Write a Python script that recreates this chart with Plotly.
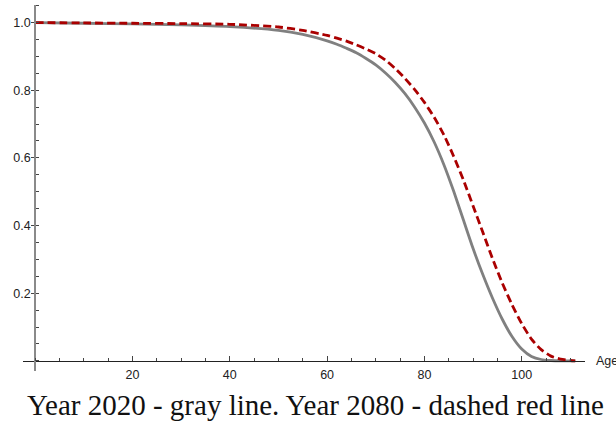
import plotly.graph_objects as go

# Data
ages = [0, 10, 20, 30, 40, 50, 55, 60, 62, 64, 66, 68, 70, 72, 74, 76, 78, 80, 82, 84, 86, 88, 90,
        92, 94, 96, 98, 100, 102, 104, 106, 108, 110, 111]
surv_2020 = [1.000, 0.998, 0.996, 0.993, 0.988, 0.977, 0.965, 0.946, 0.936, 0.924, 0.911, 0.894, 0.875,
             0.851, 0.823, 0.790, 0.750, 0.703, 0.647, 0.580, 0.502, 0.417, 0.332,
             0.255, 0.185, 0.123, 0.072, 0.035, 0.013, 0.004, 0.001, 0.000, 0.000, 0.000]
surv_2080 = [1.000, 0.999, 0.998, 0.997, 0.995, 0.987, 0.977, 0.962, 0.954, 0.945, 0.934, 0.922, 0.908,
             0.889, 0.864, 0.835, 0.802, 0.764, 0.720, 0.668, 0.605, 0.535, 0.458,
             0.380, 0.302, 0.230, 0.166, 0.110, 0.064, 0.033, 0.014, 0.005, 0.001, 0.000]

x_ticks = [20, 40, 60, 80, 100]
y_ticks = [0.2, 0.4, 0.6, 0.8, 1.0]
y_ticktext = ["0.2", "0.4", "0.6", "0.8", "1.0"]
x_label = "Age"
caption = "Year 2020 - gray line. Year 2080 - dashed red line"

x_range = [-2.5, 113]
y_range = [-0.03, 1.052]

fig = go.Figure()
fig.add_trace(go.Scatter(x=ages, y=surv_2020, mode="lines",
                         line=dict(color="rgb(128,128,128)", width=2.8, shape="spline", smoothing=0.6),
                         showlegend=False, hoverinfo="skip"))
fig.add_trace(go.Scatter(x=ages, y=surv_2080, mode="lines",
                         line=dict(color="rgb(170,0,0)", width=2.8, dash="8px,4px", shape="spline", smoothing=0.6),
                         showlegend=False, hoverinfo="skip"))

tick_font = dict(family="Liberation Sans, Arial, sans-serif", size=12.5, color="#222")

fig.update_layout(
    width=616, height=424,
    margin=dict(l=23, r=31, t=5, b=53, autoexpand=False),
    paper_bgcolor="white", plot_bgcolor="white",
    xaxis=dict(
        range=x_range, domain=[0, 1], automargin=False,
        anchor="free", position=(0 - y_range[0]) / (y_range[1] - y_range[0]),
        showgrid=False, zeroline=False,
        showline=True, linecolor="#222", linewidth=1,
        tickmode="array", tickvals=x_ticks,
        ticks="inside", ticklen=5, tickwidth=1, tickcolor="#444",
        tickfont=tick_font, ticklabelstandoff=2,
        minor=dict(dtick=5, tick0=0, ticks="inside", ticklen=3, tickwidth=1, tickcolor="#444", showgrid=False),
    ),
    yaxis=dict(
        range=y_range, domain=[0, 1], automargin=False,
        anchor="free", position=(0 - x_range[0]) / (x_range[1] - x_range[0]),
        showgrid=False, zeroline=False,
        showline=True, linecolor="#8a8a8a", linewidth=2,
        tickmode="array", tickvals=y_ticks, ticktext=y_ticktext,
        ticks="outside", ticklen=3, tickwidth=1, tickcolor="#444",
        tickfont=tick_font, ticklabelstandoff=-2,
        minor=dict(dtick=0.05, tick0=0, ticks="inside", ticklen=3, tickwidth=1, tickcolor="#444", showgrid=False),
    ),
    annotations=[
        dict(text=x_label, xref="paper", x=1, xanchor="left", xshift=9,
             yref="y", y=0, yanchor="middle", showarrow=False,
             font=dict(family="Liberation Sans, Arial, sans-serif", size=12.5, color="#222")),
        dict(text=caption, xref="paper", x=0.521, xanchor="center",
             yref="paper", y=-0.094, yanchor="middle", showarrow=False,
             font=dict(family="Liberation Serif, Times New Roman, serif", size=29, color="#111")),
    ],
)

fig.write_html("out.html", config={"displayModeBar": False},
               post_script="document.body.style.margin='0px';document.body.style.overflow='hidden';")
